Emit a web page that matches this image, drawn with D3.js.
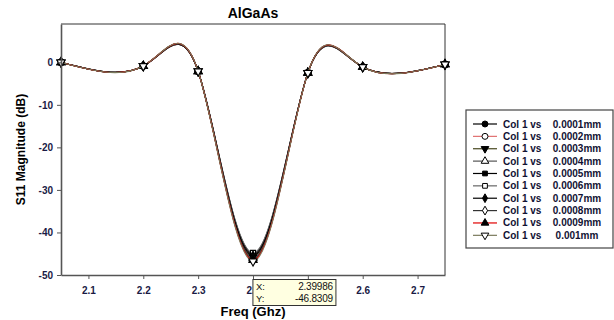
<!DOCTYPE html>
<html>
<head>
<meta charset="utf-8">
<script src="https://cdn.jsdelivr.net/npm/d3@7"></script>
<style>
  body { margin: 0; background: #fff; }
  svg { font-family: "Liberation Sans", Arial, sans-serif; }
</style>
</head>
<body>
<div id="chart"></div>
<script>
// frequency points (GHz) where each series has a marker
const freq = [2.05, 2.2, 2.3, 2.4, 2.5, 2.6, 2.75];

// S11 magnitude (dB) for each thickness
const s0001 = [0, -0.87, -2.1, -45.3, -2.5, -1.1, -0.5];
const s0002 = [0, -0.87, -2.1, -45.6, -2.5, -1.1, -0.5];
const s0003 = [0, -0.87, -2.1, -45.9, -2.5, -1.1, -0.5];
const s0004 = [0, -0.87, -2.1, -46.1, -2.5, -1.1, -0.5];
const s0005 = [0, -0.87, -2.1, -45.0, -2.5, -1.1, -0.5];
const s0006 = [0, -0.87, -2.1, -44.8, -2.5, -1.1, -0.5];
const s0007 = [0, -0.87, -2.1, -45.5, -2.5, -1.1, -0.5];
const s0008 = [0, -0.87, -2.1, -46.3, -2.5, -1.1, -0.5];
const s0009 = [0, -0.87, -2.1, -46.5, -2.5, -1.1, -0.5];
const s001  = [0, -0.87, -2.1, -46.8, -2.5, -1.1, -0.5];

const seriesNames = ['0.0001mm', '0.0002mm', '0.0003mm', '0.0004mm', '0.0005mm',
                     '0.0006mm', '0.0007mm', '0.0008mm', '0.0009mm', '0.001mm'];
const seriesValues = [s0001, s0002, s0003, s0004, s0005, s0006, s0007, s0008, s0009, s001];

const xTicks = [2.1, 2.2, 2.3, 2.4, 2.5, 2.6, 2.7];
const xTickLabels = ['2.1', '2.2', '2.3', '2.4', '', '2.6', '2.7']; // 2.5 sits under the cursor box
const yTicks = [0, -10, -20, -30, -40, -50];

// data cursor readout
const tipX = 2.39986;
const tipY = -46.8309;

// line colour, marker shape, filled or not
const styles = [
  { color: '#000000', shape: 'circle', fill: true },
  { color: '#e07070', shape: 'circle', fill: false },
  { color: '#46461e', shape: 'down', fill: true },
  { color: '#555555', shape: 'up', fill: false },
  { color: '#000000', shape: 'square', fill: true },
  { color: '#666666', shape: 'square', fill: false },
  { color: '#000000', shape: 'diamond', fill: true },
  { color: '#333333', shape: 'diamond', fill: false },
  { color: '#e00000', shape: 'up', fill: true },
  { color: '#7a7a5c', shape: 'down', fill: false }
];

const width = 614, height = 320;
const margin = { top: 24, right: 169, bottom: 45, left: 61 };
const innerW = width - margin.left - margin.right;
const innerH = height - margin.top - margin.bottom;

const svg = d3.select('#chart').append('svg')
  .attr('width', width)
  .attr('height', height);

const g = svg.append('g')
  .attr('transform', `translate(${margin.left},${margin.top})`);

const x = d3.scaleLinear().domain([2.05, 2.75]).range([0, innerW]);
const y = d3.scaleLinear().domain([-50, 9]).range([innerH, 0]);

function symbolPath(shape, size) {
  if (shape === 'circle') return d3.symbol(d3.symbolCircle, size)();
  if (shape === 'square') return d3.symbol(d3.symbolSquare, size * 0.8)();
  if (shape === 'diamond') return d3.symbol(d3.symbolDiamond, size * 0.8)();
  return d3.symbol(d3.symbolTriangle, size * 0.9)();
}

// frame (top + right)
g.append('path')
  .attr('d', `M0,0H${innerW}V${innerH}`)
  .attr('fill', 'none')
  .attr('stroke', '#333')
  .attr('stroke-width', 1);

// series
const line = d3.line()
  .x(d => x(d[0]))
  .y(d => y(d[1]))
  .curve(d3.curveNatural);

seriesValues.forEach((vals, i) => {
  const st = styles[i];
  const pts = freq.map((f, j) => [f, vals[j]]);
  g.append('path')
    .datum(pts)
    .attr('fill', 'none')
    .attr('stroke', st.color)
    .attr('stroke-width', 1.1)
    .attr('d', line);
  g.selectAll(null)
    .data(pts)
    .enter().append('path')
    .attr('d', symbolPath(st.shape, 32))
    .attr('transform', d => `translate(${x(d[0])},${y(d[1])})${st.shape === 'down' ? ' rotate(180)' : ''}`)
    .attr('fill', st.fill ? '#000' : '#fff')
    .attr('stroke', '#000')
    .attr('stroke-width', 1.1);
});

// axes
const xAxis = g.append('g')
  .attr('transform', `translate(0,${innerH})`)
  .call(d3.axisBottom(x).tickValues(xTicks).tickSize(4).tickSizeOuter(0)
    .tickFormat((d, i) => xTickLabels[i]));
const yAxis = g.append('g')
  .call(d3.axisLeft(y).tickValues(yTicks).tickSize(4).tickSizeOuter(0).tickFormat(d => d));

[xAxis, yAxis].forEach(ax => {
  ax.select('.domain').attr('stroke', '#555').attr('stroke-width', 1.6);
  ax.selectAll('.tick line').attr('stroke', '#555').attr('stroke-width', 1);
  ax.selectAll('.tick text')
    .attr('fill', '#1a1a44')
    .style('font-size', '10px')
    .style('font-weight', 'bold')
    .style('font-family', '"Liberation Sans", Arial, sans-serif');
});
xAxis.selectAll('.tick text').attr('dy', '1.2em');
yAxis.selectAll('.tick text').attr('x', -8);

// title and axis labels
svg.append('text')
  .attr('x', margin.left + innerW / 2)
  .attr('y', 18)
  .attr('text-anchor', 'middle')
  .style('font-size', '14px')
  .style('font-weight', 'bold')
  .text('AlGaAs');

svg.append('text')
  .attr('x', margin.left + innerW / 2)
  .attr('y', 316)
  .attr('text-anchor', 'middle')
  .style('font-size', '13px')
  .style('font-weight', 'bold')
  .text('Freq (Ghz)');

svg.append('text')
  .attr('transform', `translate(25,${margin.top + innerH / 2}) rotate(-90)`)
  .attr('text-anchor', 'middle')
  .style('font-size', '12px')
  .style('font-weight', 'bold')
  .text('S11 Magnitude (dB)');

// data cursor tooltip
const tip = svg.append('g')
  .attr('transform', `translate(${margin.left + x(tipX)},279.5)`);
tip.append('rect')
  .attr('width', 83)
  .attr('height', 26)
  .attr('fill', '#ffffe1')
  .attr('stroke', '#333')
  .attr('stroke-width', 1);
[['X:', tipX], ['Y:', tipY]].forEach((r, i) => {
  tip.append('text').attr('x', 3).attr('y', 10.5 + i * 11.5)
    .style('font-size', '9.5px').attr('fill', '#111').text(r[0]);
  tip.append('text').attr('x', 80).attr('y', 10.5 + i * 11.5)
    .attr('text-anchor', 'end')
    .style('font-size', '10px').style('letter-spacing', '-0.2px')
    .attr('fill', '#111').text(r[1]);
});

// legend
const legend = svg.append('g').attr('transform', 'translate(466,110)');
legend.append('rect')
  .attr('width', 147)
  .attr('height', 138)
  .attr('fill', '#fff')
  .attr('stroke', '#444')
  .attr('stroke-width', 1.2);

seriesNames.forEach((name, i) => {
  const st = styles[i];
  const row = legend.append('g').attr('transform', `translate(0,${14 + i * 12.37})`);
  row.append('line')
    .attr('x1', 7).attr('x2', 31)
    .attr('stroke', st.color).attr('stroke-width', 1.2);
  row.append('path')
    .attr('d', symbolPath(st.shape, 28))
    .attr('transform', `translate(19,0)${st.shape === 'down' ? ' rotate(180)' : ''}`)
    .attr('fill', st.fill ? '#000' : '#fff')
    .attr('stroke', '#000')
    .attr('stroke-width', 1);
  row.append('text')
    .attr('x', 37).attr('y', 3.5)
    .style('font-size', '10px').style('font-weight', 'bold')
    .attr('fill', '#111133')
    .text('Col 1 vs');
  row.append('text')
    .attr('x', 111).attr('y', 3.5)
    .attr('text-anchor', 'middle')
    .style('font-size', '10px').style('font-weight', 'bold')
    .attr('fill', '#111133')
    .text(name);
});
</script>
</body>
</html>
